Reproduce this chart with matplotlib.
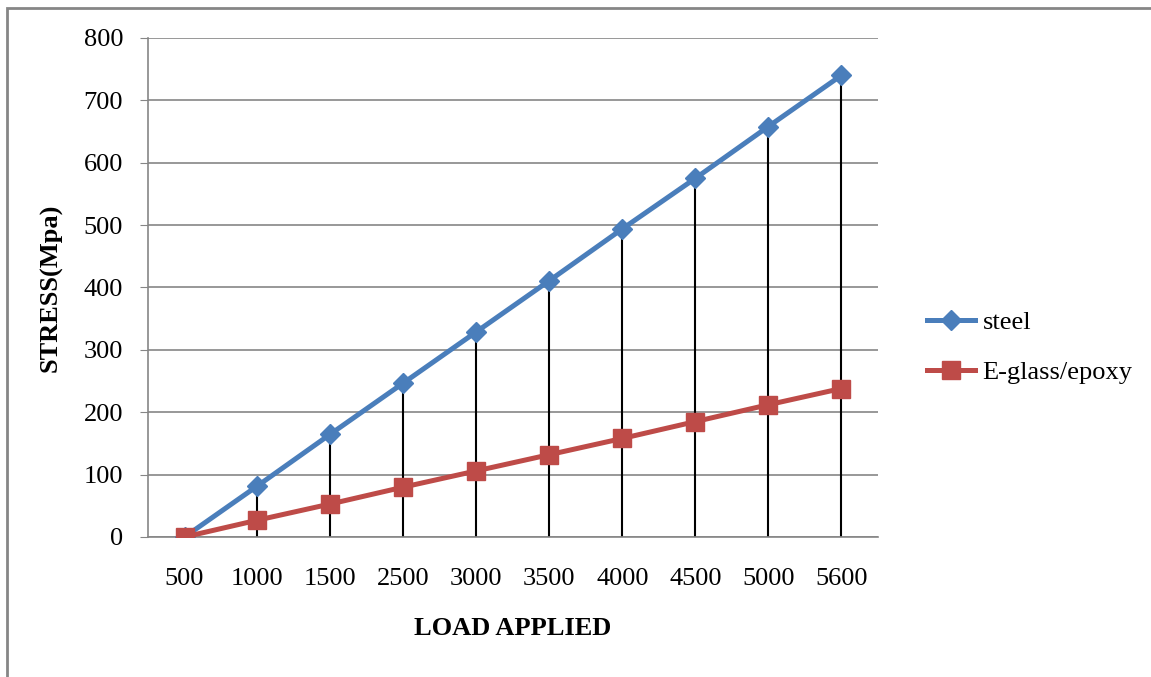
import matplotlib.pyplot as plt
from matplotlib.patches import Rectangle

# =====================
# Data
# =====================
load_labels = ["500", "1000", "1500", "2500", "3000", "3500", "4000", "4500", "5000", "5600"]
steel = [0, 82, 165, 247, 329, 411, 494, 575, 658, 740]
eglass = [0, 27, 53, 80, 106, 132, 158, 185, 212, 238]

plt.rcParams["font.family"] = ["Liberation Serif", "DejaVu Serif"]

fig = plt.figure(figsize=(11.51, 6.77), dpi=100)
ax = fig.add_axes([0.1286, 0.2068, 0.634, 0.7371])

x = list(range(len(load_labels)))

# drop lines from steel points down to the axis
ax.vlines(x, 0, steel, color="black", linewidth=1.5, zorder=2)

ax.plot(x, steel, color="#4A7EBB", linewidth=3.6, marker="D", markersize=10,
        label="steel", zorder=3)
ax.plot(x, eglass, color="#BE4B48", linewidth=3.6, marker="s", markersize=13,
        label="E-glass/epoxy", zorder=3)

ax.set_xlim(-0.5, len(load_labels) - 0.5)
ax.set_ylim(0, 800)
ax.set_yticks(range(0, 801, 100))
ax.set_xticks(x)
ax.set_xticklabels(load_labels)

ax.grid(axis="y", color="#868686", linewidth=1.2)
ax.set_axisbelow(True)
for s in ["top", "right"]:
    ax.spines[s].set_visible(False)
ax.spines["left"].set_color("#868686")
ax.spines["bottom"].set_color("#868686")
ax.spines["left"].set_linewidth(1.2)
ax.spines["bottom"].set_linewidth(1.2)
ax.tick_params(axis="y", length=6, color="#868686", labelsize=19, pad=12)
ax.tick_params(axis="x", length=0, labelsize=19, pad=22)

ax.set_ylabel("STRESS(Mpa)", fontsize=19, fontweight="bold", labelpad=15)
ax.set_xlabel("LOAD APPLIED", fontsize=19, fontweight="bold", labelpad=20)

ax.legend(loc="center left", bbox_to_anchor=(1.035, 0.38), frameon=False,
          fontsize=19, handlelength=1.8, handletextpad=0.3, labelspacing=1.0)

# outer chart frame
fig.patches.append(Rectangle((7 / 1151, -0.1), 1.2, 1 - 8 / 677 + 0.1,
                             transform=fig.transFigure, fill=False,
                             edgecolor="#868686", linewidth=2))

fig.savefig("out.png", dpi=100)
